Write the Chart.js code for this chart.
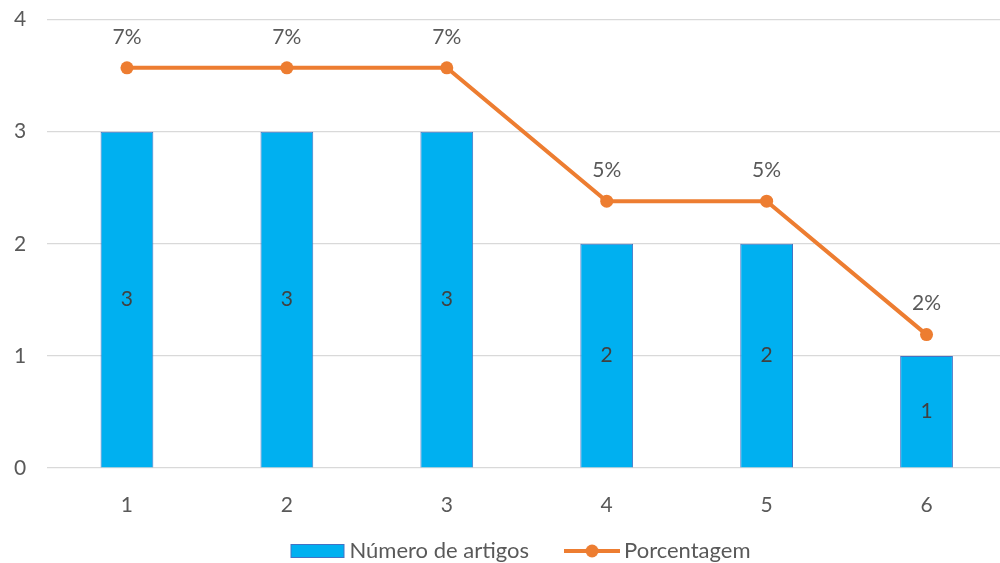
<!DOCTYPE html>
<html><head><meta charset="utf-8">
<script src="https://cdn.jsdelivr.net/npm/chart.js@4"></script>
<style>html,body{margin:0;padding:0;background:#fff;overflow:hidden;width:1000px;height:563px}canvas{display:block}</style>
</head><body><canvas id="c" width="1013" height="600"></canvas>
<script>
const categories = ['1','2','3','4','5','6'];
const articles = [3,3,3,2,2,1];
const percentages = [7.14,7.14,7.14,4.76,4.76,2.38];
const yTicks = [0,1,2,3,4];
const seriesNames = ['Número de artigos','Porcentagem'];

const FONT = 'Lato, "Open Sans", sans-serif';
const FS = 21;
const LFS = 22;
const TXT = '#595959';
const LEG_PAD = 42;

function mkImg(kind){
  const c=document.createElement('canvas');c.width=56;c.height=16;const g=c.getContext('2d');
  if(kind==='bar'){g.fillStyle='#00B0F0';g.fillRect(1,1,54,14);g.strokeStyle='#4472C4';g.lineWidth=1;g.strokeRect(1.5,1.5,53,13);}
  else{g.strokeStyle='#ED7D31';g.lineWidth=4;g.beginPath();g.moveTo(0,8);g.lineTo(56,8);g.stroke();g.fillStyle='#ED7D31';g.beginPath();g.arc(28,8,6.5,0,Math.PI*2);g.fill();}
  return c;
}
const legendImgs=[mkImg('bar'),mkImg('line')];

const labelPlugin={id:'labels',
  afterLayout(chart){
    const lg=chart.legend; if(!lg) return;
    const dy = 553 - (lg.top + LEG_PAD + 13);
    lg.top+=dy; lg.bottom+=dy;
    const dx = 10; lg.left+=dx; lg.right+=dx;
  },
  afterDatasetsDraw(chart){
  const ctx=chart.ctx;ctx.save();ctx.font=FS+'px '+FONT;ctx.textAlign='center';ctx.textBaseline='middle';
  chart.getDatasetMeta(0).data.forEach((b,i)=>{ctx.fillStyle='#404040';ctx.fillText(String(articles[i]),b.x,(b.y+b.base)/2);});
  chart.getDatasetMeta(1).data.forEach((p,i)=>{ctx.fillStyle=TXT;ctx.fillText(Math.round(percentages[i])+'%',p.x,p.y-31);});
  ctx.restore();
}};

new Chart(document.getElementById('c'),{
  data:{labels:categories,datasets:[
    {type:'bar',label:seriesNames[0],data:articles,backgroundColor:'#00B0F0',borderColor:'#4472C4',borderWidth:1,barPercentage:0.33,categoryPercentage:1,yAxisID:'y',order:2},
    {type:'line',label:seriesNames[1],data:percentages,borderColor:'#ED7D31',backgroundColor:'#ED7D31',borderWidth:4,pointRadius:6.5,pointHoverRadius:6.5,pointBackgroundColor:'#ED7D31',pointBorderWidth:0,yAxisID:'y1',order:1,tension:0}
  ]},
  options:{responsive:false,animation:false,
    layout:{padding:{top:0,left:14,right:0,bottom:0}},
    plugins:{tooltip:{enabled:false},
      legend:{position:'bottom',labels:{usePointStyle:true,pointStyleWidth:42,font:{size:LFS,family:FONT},color:TXT,padding:LEG_PAD,boxHeight:16,
        generateLabels(chart){return chart.data.datasets.map((d,i)=>({text:d.label,pointStyle:legendImgs[i],fillStyle:'transparent',strokeStyle:'transparent',lineWidth:0,fontColor:TXT,datasetIndex:i,hidden:false}));}}}},
    scales:{
      x:{offset:true,grid:{display:false},border:{display:false},ticks:{color:TXT,font:{size:FS,family:FONT},padding:17},
        afterFit(s){const lh=s.chart.legend?s.chart.legend.height:0; s.height=s.chart.height-lh-468;}},
      y:{min:0,max:4,afterBuildTicks(a){a.ticks=yTicks.map(v=>({value:v}));},grid:{color:'#d9d9d9',lineWidth:1.2,drawTicks:false},border:{display:false},
        ticks:{color:TXT,font:{size:FS,family:FONT},padding:7,crossAlign:'far'},afterFit(s){s.width=33;}},
      y1:{display:false,min:0,max:8}
    }
  },
  plugins:[labelPlugin]
});
</script></body></html>
